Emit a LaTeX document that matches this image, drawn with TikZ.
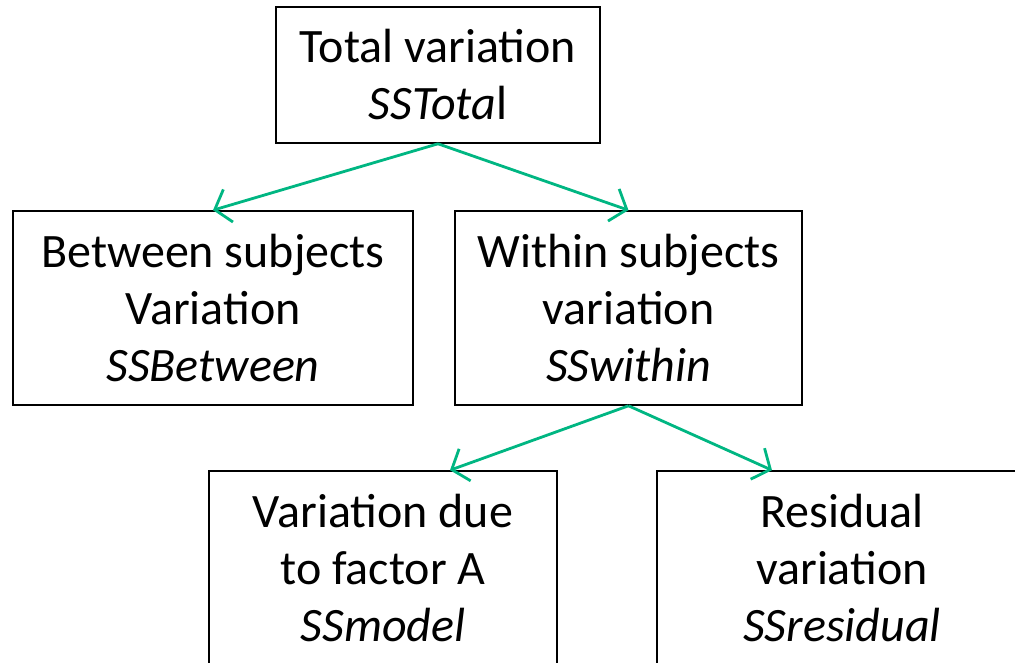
\documentclass[tikz,border=0pt]{standalone}
\usepackage{fontspec}
\setmainfont{Carlito}
\usetikzlibrary{arrows.meta}
\definecolor{arrowgreen}{RGB}{0,182,130}
\begin{document}
\begin{tikzpicture}[x=1pt,y=-1pt]
% Styles
\tikzset{box/.style={draw, line width=1.6pt, align=center, inner sep=0pt,
    font=\fontsize{48}{57}\selectfont},
  split/.style={draw=arrowgreen, line width=2.8pt,
    -{Straight Barb[length=14pt,width=34pt,line width=2.8pt]}}}
\useasboundingbox (0,0) rectangle (1015,663);
\clip (0,0) rectangle (1015,663);
% the boxes
\node [box, minimum width=324, minimum height=136] (total) at (438,75)
  {Total variation\\\textit{SSTota}l};
\node [box, minimum width=400, minimum height=194] (between) at (213,308)
  {Between subjects\\Variation\\\textit{SSBetween}};
\node [box, minimum width=347, minimum height=194] (within) at (628.5,308)
  {Within subjects\\variation\\\textit{SSwithin}};
\node [box, minimum width=348, minimum height=194] (model) at (383,568)
  {Variation due\\to factor A\\\textit{SSmodel}};
\node [box, minimum width=370, minimum height=194] (residual) at (842,568)
  {Residual\\variation\\\textit{SSresidual}};
% the arrows
\draw [split] (total.south) -- (between.north);
\draw [split] (total.south) -- (within.north);
\draw [split] (within.south) -- ([xshift=67]model.north);
\draw [split] (within.south) -- ([xshift=-70]residual.north);
\end{tikzpicture}
\end{document}
